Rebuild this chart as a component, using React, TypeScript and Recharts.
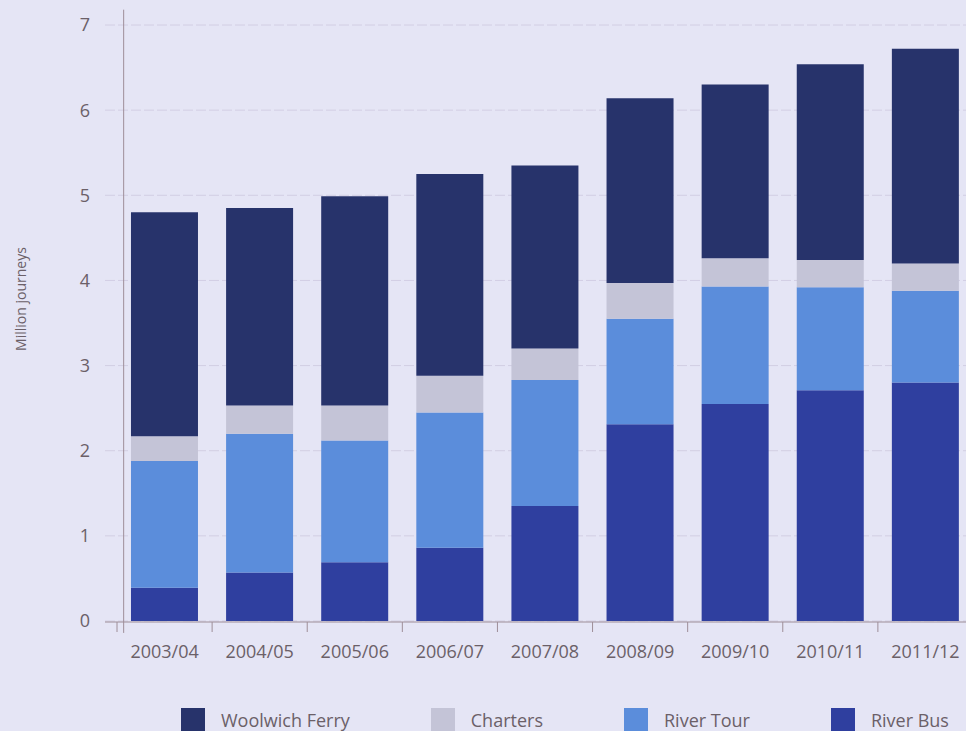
import React from 'react';
import {
  BarChart,
  Bar,
  XAxis,
  YAxis,
  CartesianGrid,
  ReferenceLine,
  Legend,
} from 'recharts';

// ---- data ----
const categories = [
  '2003/04', '2004/05', '2005/06', '2006/07', '2007/08',
  '2008/09', '2009/10', '2010/11', '2011/12',
];
const riverBus = [0.39, 0.57, 0.69, 0.86, 1.35, 2.31, 2.55, 2.71, 2.8];
const riverTour = [1.49, 1.63, 1.43, 1.59, 1.48, 1.24, 1.38, 1.21, 1.08];
const charters = [0.29, 0.33, 0.41, 0.43, 0.37, 0.42, 0.33, 0.32, 0.32];
const woolwichFerry = [2.63, 2.32, 2.46, 2.37, 2.15, 2.17, 2.04, 2.3, 2.52];
const yTicks = [0, 1, 2, 3, 4, 5, 6, 7];
const yLabel = 'Million journeys';

const series = [
  { key: 'woolwichFerry', name: 'Woolwich Ferry', color: '#27336b' },
  { key: 'charters', name: 'Charters', color: '#c4c4d7' },
  { key: 'riverTour', name: 'River Tour', color: '#5b8ddb' },
  { key: 'riverBus', name: 'River Bus', color: '#2f3f9f' },
];

const data = categories.map((c, i) => ({
  category: c,
  idx: i,
  riverBus: riverBus[i],
  riverTour: riverTour[i],
  charters: charters[i],
  woolwichFerry: woolwichFerry[i],
}));

const boundaryTicks = Array.from({ length: categories.length + 1 }, (_, i) => i);

// ---- style ----
const BG = '#e5e5f5';
const AXIS = '#9e8e98';
const TEXT = '#6b6068';
const FONT = '"Open Sans", "Noto Sans", sans-serif';
const Y_AXIS_CROSS = 0.07;

const LegendContent = () => (
  <div
    style={{
      display: 'flex',
      flexWrap: 'nowrap',
      whiteSpace: 'nowrap',
      gap: 81,
      fontFamily: FONT,
      fontSize: 18,
      color: TEXT,
    }}
  >
    {series.map((s) => (
      <div key={s.key} style={{ display: 'flex', alignItems: 'flex-start' }}>
        <div style={{ width: 24, height: 24, background: s.color, marginRight: 16 }} />
        <span>{s.name}</span>
      </div>
    ))}
  </div>
);

const YLabel = (props: any) => {
  const vb = props.viewBox || { x: 0, y: 0, width: 0, height: 0 };
  const x = vb.x - 25;
  const y = vb.y + vb.height / 2 - 24;
  return (
    <text
      x={x}
      y={y}
      transform={`rotate(-90 ${x} ${y})`}
      textAnchor="middle"
      dominantBaseline="central"
      fill={TEXT}
      fontSize={14}
      fontFamily={FONT}
    >
      {yLabel}
    </text>
  );
};

const EmptyTick = () => <g />;

export default function App() {
  return (
    <div
      style={{
        position: 'absolute',
        left: 0,
        top: 0,
        width: 966,
        height: 731,
        overflow: 'hidden',
        background: BG,
      }}
    >
      <BarChart
        width={980}
        height={731}
        data={data}
        margin={{ top: 25, right: 7, bottom: 108, left: 45 }}
        barCategoryGap="14.7%"
      >
        <CartesianGrid
          xAxisId="cat"
          vertical={false}
          stroke="#d2cee3"
          strokeDasharray="10 3"
        />
        <XAxis
          xAxisId="num"
          type="number"
          dataKey="idx"
          domain={[0, categories.length]}
          ticks={boundaryTicks}
          allowDataOverflow
          padding={{ left: 12, right: 0 }}
          height={1}
          stroke={AXIS}
          tickSize={10}
          tick={EmptyTick}
          tickLine={{ stroke: AXIS }}
          axisLine={{ stroke: AXIS }}
        />
        <XAxis
          xAxisId="cat"
          dataKey="category"
          padding={{ left: 12, right: 0 }}
          height={1}
          axisLine={false}
          tickLine={false}
          tickSize={10}
          tickMargin={14}
          interval={0}
          tick={{ fill: TEXT, fontSize: 18, fontFamily: FONT }}
        />
        <YAxis
          width={60}
          domain={[0, 7]}
          ticks={yTicks}
          axisLine={false}
          tickLine={false}
          tickSize={6}
          tickMargin={9}
          tick={{ fill: TEXT, fontSize: 18, fontFamily: FONT }}
          label={<YLabel />}
        />
        <ReferenceLine
          xAxisId="num"
          ifOverflow="visible"
          stroke={AXIS}
          segment={[
            { x: Y_AXIS_CROSS, y: -0.14 },
            { x: Y_AXIS_CROSS, y: 7.18 },
          ]}
        />
        <Legend
          layout="horizontal"
          verticalAlign="middle"
          align="center"
          content={<LegendContent />}
          wrapperStyle={{ left: 181, top: 708, width: 1000, height: 30 }}
        />
        {[...series].reverse().map((s) => (
          <Bar
            key={s.key}
            xAxisId="cat"
            dataKey={s.key}
            name={s.name}
            stackId="a"
            fill={s.color}
            isAnimationActive={false}
          />
        ))}
      </BarChart>
    </div>
  );
}
